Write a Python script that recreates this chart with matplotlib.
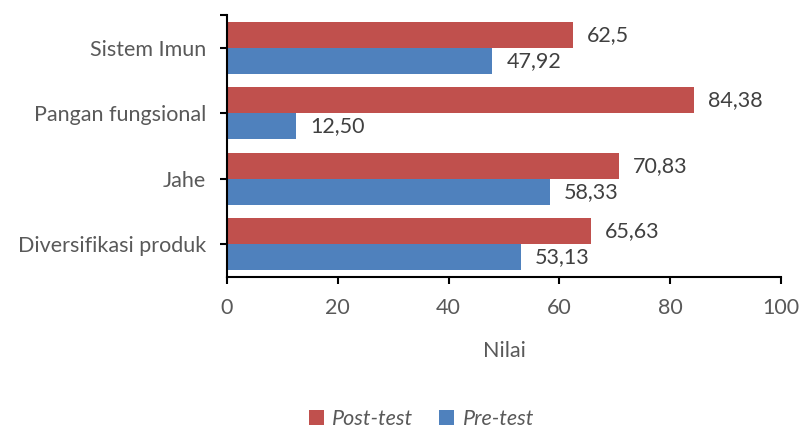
import matplotlib
matplotlib.use("Agg")
import matplotlib.pyplot as plt
import numpy as np

plt.rcParams['font.family'] = ['Lato', 'DejaVu Sans']

kategori = ['Sistem Imun', 'Pangan fungsional', 'Jahe', 'Diversifikasi produk']
post_test = [62.5, 84.38, 70.83, 65.63]
pre_test = [47.92, 12.50, 58.33, 53.13]
label_post = ['62,5', '84,38', '70,83', '65,63']
label_pre = ['47,92', '12,50', '58,33', '53,13']

merah = '#C0504D'
biru = '#4F81BD'
abu = '#595959'
fs = 15.5

fig = plt.figure(figsize=(8.03, 4.28), dpi=100)
ax = fig.add_axes([0.2827, 0.3528, 0.9726 - 0.2827, 0.965 - 0.3528])

y = np.arange(len(kategori))
h = 0.4
b1 = ax.barh(y - h / 2, post_test, height=h, color=merah, label='Post-test')
b2 = ax.barh(y + h / 2, pre_test, height=h, color=biru, label='Pre-test')

for bar, teks in zip(b1, label_post):
    ax.annotate(teks, (bar.get_width(), bar.get_y() + bar.get_height() / 2),
                xytext=(10, 0), textcoords='offset points', va='center',
                ha='left', fontsize=fs, color='#404040')
for bar, teks in zip(b2, label_pre):
    ax.annotate(teks, (bar.get_width(), bar.get_y() + bar.get_height() / 2),
                xytext=(10, 0), textcoords='offset points', va='center',
                ha='left', fontsize=fs, color='#404040')

ax.set_ylim(len(kategori) - 0.5, -0.5)
ax.set_xlim(0, 100)
ax.set_yticks(y)
ax.set_yticklabels(kategori)
ax.set_yticks([-0.5], minor=True)
ax.set_xticks(np.arange(0, 101, 20))
ax.set_xlabel('Nilai', fontsize=fs, color=abu, labelpad=17)

for s in ['top', 'right']:
    ax.spines[s].set_visible(False)
for s in ['left', 'bottom']:
    ax.spines[s].set_linewidth(1.5)
ax.tick_params(axis='both', which='both', length=5, width=1.5,
               labelsize=fs, labelcolor=abu, pad=10)
ax.tick_params(axis='y', which='major', pad=10)

leg = fig.legend(handles=[b1, b2], loc='center', bbox_to_anchor=(0.525, 0.022),
                 ncol=2, frameon=False, handlelength=0.7, handleheight=0.7,
                 handletextpad=0.4, columnspacing=1.2,
                 prop={'style': 'italic', 'size': fs})
for t in leg.get_texts():
    t.set_color(abu)

fig.savefig('out.png', dpi=100)
